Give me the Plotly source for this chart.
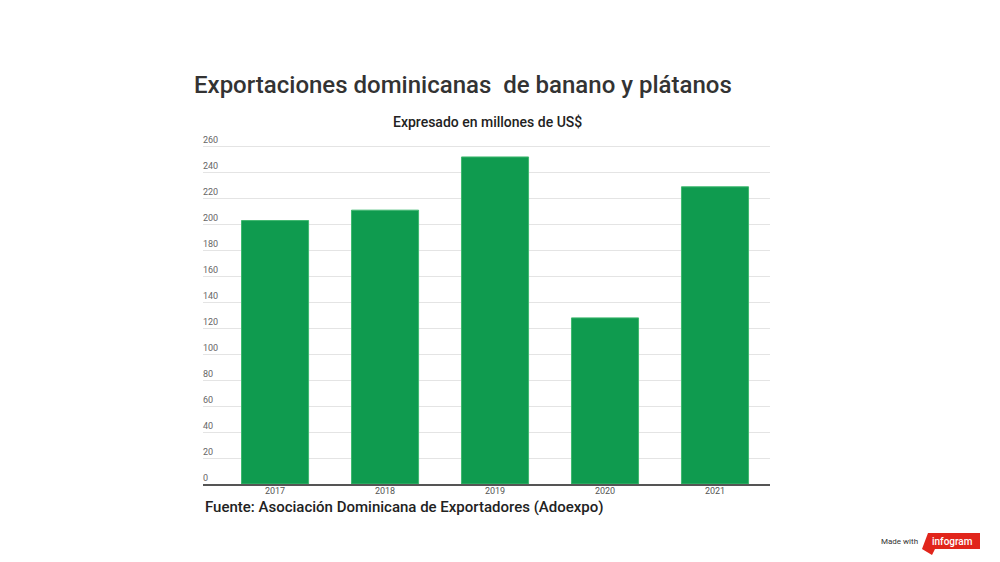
import plotly.graph_objects as go

years = ["2017", "2018", "2019", "2020", "2021"]
values = [203, 211, 252, 128, 229]
y_ticks = list(range(0, 261, 20))

title_text = "Exportaciones dominicanas  de banano y plátanos"
subtitle_text = "Expresado en millones de US$"
source_text = "Fuente: Asociación Dominicana de Exportadores (Adoexpo)"

W, H = 1000, 562
OFF = 8  # page body margin
L = 203 - OFF
R = W - (770 - OFF)
B = H - (484 - OFF)
YMAX = 272
px_per_unit = (484 - 147) / 260.0
T = (484 - OFF) - YMAX * px_per_unit
PW = W - L - R
PH = H - T - B


def px_x(sx):
    return (sx - OFF - L) / PW


def px_y(sy):
    return (H - (sy - OFF) - B) / PH


fig = go.Figure()
fig.add_trace(go.Bar(
    x=years, y=values,
    marker=dict(color="#0f9b4f", line=dict(color="#3fb86f", width=1)),
    hoverinfo="x+y",
))

fig.update_layout(
    width=W, height=H,
    margin=dict(l=L, r=R, t=T, b=B, autoexpand=False),
    paper_bgcolor="white", plot_bgcolor="white",
    showlegend=False,
    bargap=0.39,
    font=dict(family="Roboto, sans-serif", color="#666"),
    xaxis=dict(
        type="category", range=[-0.655, 4.5],
        showgrid=False, showline=True, linecolor="#555", linewidth=1.5,
        ticks="", tickfont=dict(size=9, color="#555"), ticklabelstandoff=-3,
        fixedrange=True,
    ),
    yaxis=dict(
        range=[0, YMAX], tickvals=y_ticks,
        showgrid=True, gridcolor="#e4e4e4", gridwidth=1,
        zeroline=False, showline=False,
        ticklabelposition="inside top", tickfont=dict(size=9, color="#666"),
        ticklabelstandoff=-3,
        ticks="", fixedrange=True,
    ),
    annotations=[
        dict(text=title_text, xref="paper", yref="paper", x=px_x(192), y=px_y(86),
             xanchor="left", yanchor="middle", showarrow=False,
             font=dict(family="Roboto", size=24, color="#333", weight=500)),
        dict(text=subtitle_text, xref="paper", yref="paper", x=px_x(487), y=px_y(122),
             xanchor="center", yanchor="middle", showarrow=False,
             font=dict(family="Roboto", size=14, color="#222", weight=500)),
        dict(text=source_text, xref="paper", yref="paper", x=px_x(203), y=px_y(507),
             xanchor="left", yanchor="middle", showarrow=False,
             font=dict(family="Roboto", size=15, color="#222", weight=500)),
        dict(text="Made with", xref="paper", yref="paper", x=px_x(920), y=px_y(541),
             xanchor="right", yanchor="middle", showarrow=False,
             font=dict(family="Roboto", size=8, color="#333")),
        dict(text="infogram", xref="paper", yref="paper", x=px_x(952), y=px_y(541),
             xanchor="center", yanchor="middle", showarrow=False,
             font=dict(family="Roboto", size=10, color="white", weight=500)),
    ],
)

# infogram badge (decoration)
path = "M {} {} L {} {} L {} {} L {} {} L {} {} L {} {} Z".format(
    px_x(928), px_y(533), px_x(980), px_y(533), px_x(980), px_y(549),
    px_x(935), px_y(549), px_x(932), px_y(555), px_x(922), px_y(549))
fig.add_shape(type="path", xref="paper", yref="paper", path=path,
              fillcolor="#e1251b", line=dict(width=0), layer="above")

fig.write_html("out.html")
